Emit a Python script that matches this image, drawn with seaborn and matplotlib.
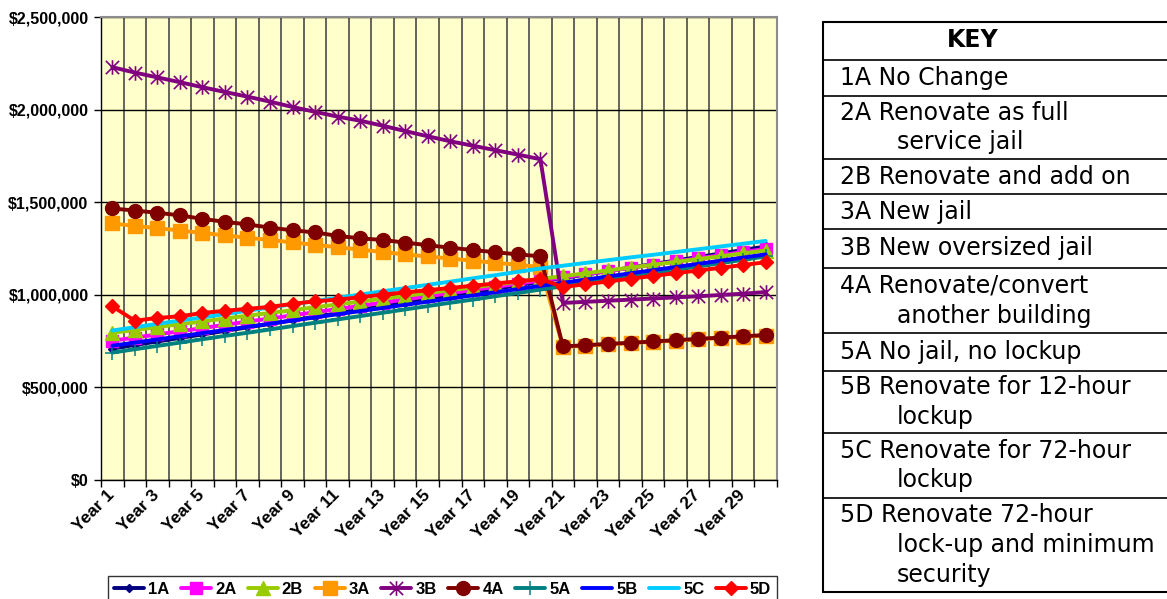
import numpy as np
import pandas as pd
import matplotlib
matplotlib.use("Agg")
import matplotlib.pyplot as plt
from matplotlib.path import Path
from matplotlib.ticker import FuncFormatter
import seaborn as sns

# ---- data: annual cost of each option, years 1-30 ----
years = [f"Year {i}" for i in range(1, 31)]
year_no = list(range(1, 31))

cost_1a = [710000, 729000, 748000, 767000, 786000, 805000, 824000, 843000, 862000, 881000,
           900000, 919000, 938000, 957000, 976000, 995000, 1014000, 1033000, 1052000, 1071000,
           1090000, 1109000, 1128000, 1147000, 1166000, 1185000, 1204000, 1223000, 1242000, 1261000]
cost_2a = [752000, 769000, 786000, 803000, 820000, 838000, 855000, 872000, 889000, 906000,
           923000, 940000, 957000, 975000, 992000, 1009000, 1026000, 1043000, 1060000, 1077000,
           1094000, 1111000, 1128000, 1146000, 1163000, 1180000, 1197000, 1214000, 1231000, 1248000]
cost_2b = [795000, 810000, 826000, 841000, 856000, 872000, 887000, 902000, 917000, 933000,
           948000, 963000, 979000, 994000, 1009000, 1025000, 1040000, 1055000, 1071000, 1086000,
           1101000, 1116000, 1132000, 1147000, 1162000, 1178000, 1193000, 1208000, 1224000, 1239000]
cost_3a = [1385000, 1372000, 1360000, 1347000, 1334000, 1321000, 1308000, 1296000, 1283000, 1270000,
           1257000, 1244000, 1231000, 1218000, 1207000, 1196000, 1184000, 1173000, 1162000, 1150000,
           718000, 725000, 732000, 739000, 746000, 752000, 759000, 766000, 773000, 780000]
cost_3b = [2229000, 2200000, 2174000, 2148000, 2121000, 2095000, 2070000, 2043000, 2014000, 1988000,
           1962000, 1940000, 1913000, 1884000, 1856000, 1829000, 1805000, 1781000, 1757000, 1732000,
           956000, 962000, 968000, 974000, 980000, 986000, 992000, 999000, 1006000, 1015000]
cost_4a = [1466000, 1455000, 1443000, 1429000, 1410000, 1394000, 1380000, 1363000, 1348000, 1337000,
           1318000, 1305000, 1296000, 1282000, 1268000, 1254000, 1242000, 1230000, 1218000, 1208000,
           721000, 728000, 735000, 741000, 748000, 755000, 762000, 769000, 776000, 783000]
cost_5a = [688000, 706000, 724000, 742000, 760000, 778000, 795000, 813000, 831000, 849000,
           867000, 885000, 903000, 921000, 939000, 957000, 974000, 992000, 1010000, 1028000,
           1046000, 1064000, 1082000, 1100000, 1118000, 1136000, 1153000, 1171000, 1189000, 1207000]
cost_5b = [725000, 742000, 759000, 776000, 793000, 810000, 827000, 844000, 861000, 878000,
           895000, 912000, 929000, 946000, 963000, 980000, 997000, 1014000, 1031000, 1048000,
           1065000, 1082000, 1099000, 1116000, 1133000, 1150000, 1167000, 1184000, 1201000, 1218000]
cost_5c = [807000, 825000, 843000, 861000, 878000, 896000, 914000, 931000, 949000, 966000,
           984000, 1001000, 1019000, 1036000, 1054000, 1071000, 1089000, 1106000, 1124000, 1142000,
           1157000, 1172000, 1187000, 1202000, 1216000, 1231000, 1246000, 1261000, 1276000, 1291000]
cost_5d = [938000, 860000, 875000, 884000, 902000, 914000, 924000, 935000, 951000, 965000,
           974000, 987000, 1001000, 1013000, 1025000, 1037000, 1049000, 1061000, 1073000, 1085000,
           1042000, 1057000, 1072000, 1087000, 1102000, 1117000, 1131000, 1146000, 1161000, 1176000]

option_codes = ["1A", "2A", "2B", "3A", "3B", "4A", "5A", "5B", "5C", "5D"]
option_costs = [cost_1a, cost_2a, cost_2b, cost_3a, cost_3b, cost_4a, cost_5a, cost_5b, cost_5c, cost_5d]

key_entries = [
    ["1A No Change"],
    ["2A Renovate as full", "service jail"],
    ["2B Renovate and add on"],
    ["3A New jail"],
    ["3B New oversized jail"],
    ["4A Renovate/convert", "another building"],
    ["5A No jail, no lockup"],
    ["5B Renovate for 12-hour", "lockup"],
    ["5C Renovate for 72-hour", "lockup"],
    ["5D Renovate 72-hour", "lock-up and minimum", "security"],
]

# ---- styling ----
asterisk = Path([(0, -1.1), (0, 1.1), (-1, -1), (1, 1), (-1, 1), (1, -1)],
                [Path.MOVETO, Path.LINETO, Path.MOVETO, Path.LINETO, Path.MOVETO, Path.LINETO])

styles = {
    "1A": dict(color="#000080", marker="D", ms=4.0, mew=1.0),
    "2A": dict(color="#FF00FF", marker="s", ms=8.0, mew=1.0),
    "2B": dict(color="#99CC00", marker="^", ms=9.5, mew=1.0),
    "3A": dict(color="#FF9900", marker="s", ms=10.5, mew=1.0),
    "3B": dict(color="#800080", marker=asterisk, ms=10.5, mew=1.2),
    "4A": dict(color="#800000", marker="o", ms=10.0, mew=1.0),
    "5A": dict(color="#008080", marker="+", ms=10.0, mew=1.1),
    "5B": dict(color="#0000FF", marker=None, ms=0, mew=0),
    "5C": dict(color="#00CCFF", marker=None, ms=0, mew=0),
    "5D": dict(color="#FF0000", marker="D", ms=7.6, mew=1.0),
}

sns.set_theme(style="white")
plt.rcParams["font.family"] = ["Liberation Sans", "DejaVu Sans"]
plt.rcParams["text.color"] = "black"
plt.rcParams["xtick.color"] = "black"
plt.rcParams["ytick.color"] = "black"
plt.rcParams["xtick.labelcolor"] = "black"
plt.rcParams["ytick.labelcolor"] = "black"

W, H = 1167, 599
fig = plt.figure(figsize=(W / 100, H / 100), dpi=100)
fig.patch.set_facecolor("white")

ax = fig.add_axes([101 / W, 1 - 480 / H, 676 / W, 463 / H])
ax.set_facecolor("#FFFFCC")

for code, values in zip(option_codes, option_costs):
    st = styles[code]
    df = pd.DataFrame({"year": year_no, "cost": values})
    kw = dict(color=st["color"], linewidth=2.8, label=code, legend=False)
    if st["marker"] is not None:
        kw.update(marker=st["marker"], markersize=st["ms"],
                  markerfacecolor=st["color"], markeredgecolor=st["color"],
                  markeredgewidth=st["mew"])
    sns.lineplot(data=df, x="year", y="cost", ax=ax, **kw)

# axes, ticks and grid
ax.set_xlim(0.5, 30.5)
ax.set_ylim(0, 2500000)
ax.set_xlabel("")
ax.set_ylabel("")

ax.set_xticks(year_no[::2])
ax.set_xticklabels(years[::2], rotation=45, ha="right", va="center",
                   rotation_mode="anchor", fontsize=12.5, fontweight="bold", color="black")
ax.set_xticks(np.arange(0.5, 31, 1.0), minor=True)
ax.tick_params(axis="x", which="major", length=0, pad=9)
ax.tick_params(axis="x", which="minor", length=5, width=1, color="black", direction="out", bottom=True)

ax.set_yticks(np.arange(0, 2500001, 500000))
ax.yaxis.set_major_formatter(FuncFormatter(lambda v, _: f"${v:,.0f}"))
ax.tick_params(axis="y", length=5, width=1, color="black", direction="out", left=True, pad=4)
for lab in ax.get_yticklabels():
    lab.set_fontsize(11.5)
    lab.set_fontweight("bold")
    lab.set_color("black")

ax.grid(False)
ax.grid(True, which="major", axis="y", color="black", linewidth=1.0)
ax.grid(True, which="minor", axis="x", color="#4a4a4a", linewidth=1.2)
ax.set_axisbelow(True)

for side in ["left", "bottom"]:
    ax.spines[side].set_color("black")
    ax.spines[side].set_linewidth(1.0)
for side in ["top", "right"]:
    ax.spines[side].set_color("#8c8c8c")
    ax.spines[side].set_linewidth(1.5)

# series legend along the bottom
handles, labels = ax.get_legend_handles_labels()
if ax.get_legend() is not None:
    ax.get_legend().remove()
leg = fig.legend(handles, labels, loc="lower left",
                 bbox_to_anchor=(108 / W, -4 / H, 669 / W, 34 / H), mode="expand",
                 ncol=10, frameon=True, fancybox=False, edgecolor="black",
                 handlelength=1.8, handletextpad=0.25, columnspacing=0.4,
                 borderpad=0.35, borderaxespad=0,
                 prop=dict(family="Liberation Sans", weight="bold", size=12))
leg.get_frame().set_linewidth(1.0)
leg.get_frame().set_facecolor("white")
for t in leg.get_texts():
    t.set_color("black")

# key table on the right
kx = fig.add_axes([0, 0, 1, 1], facecolor="none")
kx.set_xlim(0, W)
kx.set_ylim(H, 0)
kx.axis("off")

box_l, box_r, box_t, box_b = 823, 1170, 22, 592
kx.plot([box_l, box_l], [box_t, box_b], color="black", lw=1.5, clip_on=False)
kx.plot([box_l, box_r], [box_t, box_t], color="black", lw=1.5, clip_on=False)
kx.plot([box_l, box_r], [box_b, box_b], color="black", lw=1.5, clip_on=False)

row_bounds = [60, 96, 159, 194, 229, 268, 333, 371, 433, 498, 592]
for y in row_bounds[:-1]:
    kx.plot([box_l, box_r], [y, y], color="black", lw=1.2, clip_on=False)

key_font = dict(family="DejaVu Sans", size=17, color="black")
kx.text(973, 40, "KEY", ha="center", va="center", fontweight="bold", **key_font)

for i, lines in enumerate(key_entries):
    top, bot = row_bounds[i], row_bounds[i + 1]
    n = len(lines)
    step = 30
    mid = (top + bot) / 2
    first = mid - step * (n - 1) / 2
    for j, txt in enumerate(lines):
        x = 840 if j == 0 else 897
        kx.text(x, first + j * step, txt, ha="left", va="center", **key_font)

fig.savefig("out.png", dpi=100)
